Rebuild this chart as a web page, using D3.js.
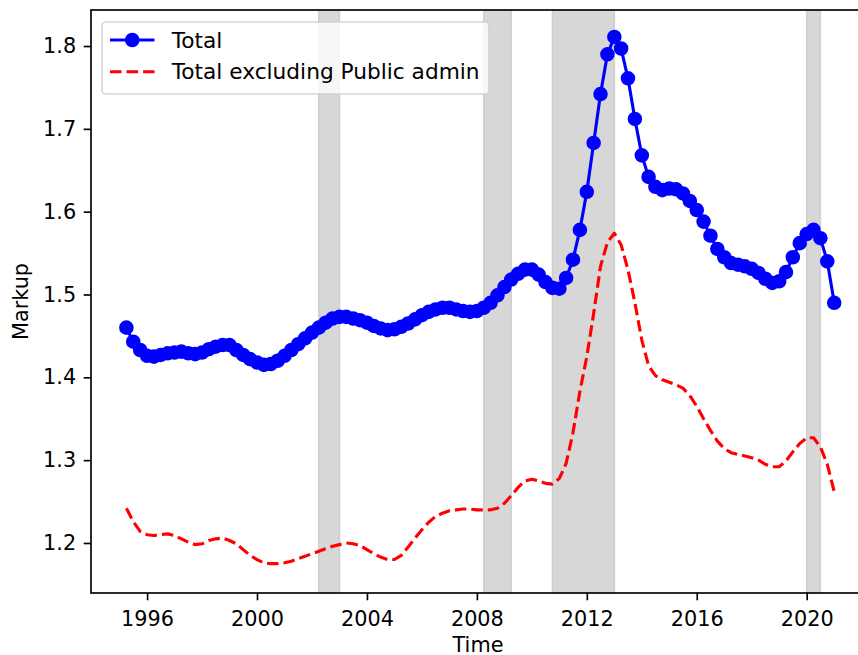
<!DOCTYPE html>
<html>
<head>
<meta charset="utf-8">
<script src="https://cdn.jsdelivr.net/npm/d3@7"></script>
<style>
  html, body { margin: 0; padding: 0; background: #fff; overflow: hidden; }
  svg { display: block; font-family: "DejaVu Sans", sans-serif; }
</style>
</head>
<body>
<svg id="chart" width="858" height="655"></svg>
<script>
// Quarterly markup series, 1995Q2 .. 2021Q1
const firstQuarter = "1995-04-01";
const lastQuarter = "2021-01-01";

const totalMarkup = [
  1.460, 1.443, 1.433, 1.426, 1.425, 1.427, 1.429, 1.430, 1.431, 1.429,
  1.428, 1.430, 1.434, 1.437, 1.439, 1.439, 1.433, 1.427, 1.422, 1.418,
  1.415, 1.416, 1.420, 1.426, 1.433, 1.440, 1.447, 1.454, 1.460, 1.466,
  1.471, 1.473, 1.473, 1.471, 1.469, 1.466, 1.462, 1.459, 1.457, 1.458,
  1.461, 1.465, 1.470, 1.475, 1.479, 1.482, 1.484, 1.484, 1.482, 1.480,
  1.479, 1.480, 1.484, 1.490, 1.499, 1.509, 1.518, 1.525, 1.530, 1.530,
  1.524, 1.515, 1.508, 1.507, 1.520, 1.542, 1.578, 1.624, 1.683, 1.742,
  1.790, 1.811, 1.797, 1.761, 1.712, 1.668, 1.642, 1.630, 1.626, 1.628,
  1.627, 1.622, 1.613, 1.602, 1.588, 1.571, 1.555, 1.545, 1.538, 1.536,
  1.534, 1.531, 1.526, 1.519, 1.514, 1.516, 1.527, 1.545, 1.562, 1.573,
  1.578, 1.568, 1.540, 1.490
];

const excludingPublicAdmin = [
  1.242, 1.226, 1.214, 1.210, 1.209, 1.210, 1.211, 1.209, 1.205, 1.201,
  1.198, 1.199, 1.203, 1.205, 1.206, 1.203, 1.199, 1.192, 1.185, 1.180,
  1.176, 1.175, 1.175, 1.176, 1.178, 1.181, 1.184, 1.187, 1.190, 1.193,
  1.196, 1.198, 1.200, 1.199, 1.197, 1.192, 1.187, 1.183, 1.180, 1.180,
  1.185, 1.195, 1.206, 1.216, 1.225, 1.232, 1.236, 1.239, 1.240, 1.241,
  1.241, 1.240, 1.240, 1.240, 1.242, 1.248, 1.257, 1.267, 1.275, 1.277,
  1.275, 1.272, 1.271, 1.278, 1.296, 1.333, 1.383, 1.425, 1.477, 1.534,
  1.563, 1.574, 1.560, 1.530, 1.490, 1.445, 1.414, 1.402, 1.397, 1.394,
  1.391, 1.387, 1.378, 1.365, 1.350, 1.336, 1.323, 1.314, 1.309, 1.307,
  1.305, 1.303, 1.300, 1.295, 1.292, 1.292, 1.299, 1.310, 1.320, 1.327,
  1.327, 1.316, 1.295, 1.262
];

// Recession periods (start, end)
const recessions = [
  ["2002-04-01", "2003-01-01"],
  ["2008-04-01", "2009-04-01"],
  ["2010-10-01", "2013-01-01"],
  ["2020-01-01", "2020-07-01"]
];

const yTicks = [1.2, 1.3, 1.4, 1.5, 1.6, 1.7, 1.8];
const yLimits = [1.1396, 1.8435];
const seriesLabels = ["Total", "Total excluding Public admin"];
const axisLabels = { x: "Time", y: "Markup" };

// ---- layout ----
const PT = 2.08;                 // pixels per point
const FONT = 10 * PT;
const LEGEND_FONT = 21.7;
const plot = { left: 91, top: 10, right: 869.6, bottom: 593 };

const svg = d3.select("#chart");
const parse = d3.utcParse("%Y-%m-%d");

const start = parse(firstQuarter);
const end = parse(lastQuarter);
const quarters = d3.utcMonth.every(3).range(start, d3.utcDay.offset(end, 1));

const pad = (end - start) * 0.05;
const x = d3.scaleUtc()
  .domain([new Date(+start - pad), new Date(+end + pad)])
  .range([plot.left, plot.right]);

const y = d3.scaleLinear()
  .domain(yLimits)
  .range([plot.bottom, plot.top]);

const totalData = quarters.map((d, i) => ({ date: d, value: totalMarkup[i] }));
const exclData = quarters.map((d, i) => ({ date: d, value: excludingPublicAdmin[i] }));

svg.append("defs").append("clipPath").attr("id", "plotClip")
  .append("rect")
  .attr("x", plot.left).attr("y", plot.top)
  .attr("width", plot.right - plot.left).attr("height", plot.bottom - plot.top);

const area = svg.append("g").attr("clip-path", "url(#plotClip)");

// recession shading
area.selectAll("rect.recession")
  .data(recessions)
  .join("rect")
  .attr("class", "recession")
  .attr("x", d => x(parse(d[0])))
  .attr("width", d => x(parse(d[1])) - x(parse(d[0])))
  .attr("y", plot.top)
  .attr("height", plot.bottom - plot.top)
  .attr("fill", "#d7d7d7")
  .attr("stroke", "#cfcfcf")
  .attr("stroke-width", 1.5);

const line = d3.line().x(d => x(d.date)).y(d => y(d.value));

// total markup: solid line with circle markers
area.append("path")
  .datum(totalData)
  .attr("d", line)
  .attr("fill", "none")
  .attr("stroke", "#0000ff")
  .attr("stroke-width", 1.5 * PT)
  .attr("stroke-linejoin", "round");

area.selectAll("circle.total")
  .data(totalData)
  .join("circle")
  .attr("class", "total")
  .attr("cx", d => x(d.date))
  .attr("cy", d => y(d.value))
  .attr("r", 3 * PT)
  .attr("fill", "#0000ff")
  .attr("stroke", "#0000ff")
  .attr("stroke-width", 1 * PT);

// total excluding public administration: dashed line
area.append("path")
  .datum(exclData)
  .attr("d", line)
  .attr("fill", "none")
  .attr("stroke", "#ff0000")
  .attr("stroke-width", 1.5 * PT)
  .attr("stroke-dasharray", `${3.7 * 1.5 * PT},${1.6 * 1.5 * PT}`)
  .attr("stroke-linejoin", "round");

// ---- axes ----
const tickLen = 3.5 * PT;

const xAxis = d3.axisBottom(x)
  .tickValues(d3.utcYear.every(4).range(parse("1996-01-01"), parse("2021-01-02")))
  .tickFormat(d3.utcFormat("%Y"))
  .tickSize(tickLen)
  .tickPadding(11);

const gx = svg.append("g")
  .attr("transform", `translate(0,${plot.bottom})`)
  .call(xAxis);

const yAxis = d3.axisLeft(y)
  .tickValues(yTicks)
  .tickFormat(d3.format(".1f"))
  .tickSize(tickLen)
  .tickPadding(7.6);

const gy = svg.append("g")
  .attr("transform", `translate(${plot.left},0)`)
  .call(yAxis);

[gx, gy].forEach(g => {
  g.select(".domain").remove();
  g.selectAll(".tick line").attr("stroke", "#000").attr("stroke-width", 0.8 * PT);
  g.selectAll(".tick text")
    .attr("fill", "#000")
    .style("font-size", FONT + "px")
    .style("font-family", "'DejaVu Sans', sans-serif");
});

// spines
svg.append("rect")
  .attr("x", plot.left).attr("y", plot.top)
  .attr("width", plot.right - plot.left).attr("height", plot.bottom - plot.top)
  .attr("fill", "none")
  .attr("stroke", "#000")
  .attr("stroke-width", 0.8 * PT);

// axis labels
svg.append("text")
  .attr("x", 478)
  .attr("y", 651.5)
  .attr("text-anchor", "middle")
  .style("font-size", FONT + "px")
  .text(axisLabels.x);

svg.append("text")
  .attr("transform", `translate(27.5,${(plot.top + plot.bottom) / 2}) rotate(-90)`)
  .attr("text-anchor", "middle")
  .style("font-size", FONT + "px")
  .text(axisLabels.y);

// ---- legend ----
const legend = svg.append("g");
const lg = { x: 102, y: 22, h: 72 };
const legendBox = legend.append("rect")
  .attr("x", lg.x).attr("y", lg.y)
  .attr("height", lg.h)
  .attr("rx", 4).attr("ry", 4)
  .attr("fill", "#ffffff").attr("fill-opacity", 0.8)
  .attr("stroke", "#cccccc").attr("stroke-opacity", 0.8)
  .attr("stroke-width", 0.8 * PT);

const rowY = [40, 71.7];
const handleX0 = 110, handleX1 = 154.5, textX = 171.7;

legend.append("line")
  .attr("x1", handleX0).attr("x2", handleX1)
  .attr("y1", rowY[0]).attr("y2", rowY[0])
  .attr("stroke", "#0000ff").attr("stroke-width", 1.5 * PT);
legend.append("circle")
  .attr("cx", (handleX0 + handleX1) / 2).attr("cy", rowY[0])
  .attr("r", 3 * PT)
  .attr("fill", "#0000ff").attr("stroke", "#0000ff").attr("stroke-width", 1 * PT);

legend.append("line")
  .attr("x1", handleX0).attr("x2", handleX1)
  .attr("y1", rowY[1]).attr("y2", rowY[1])
  .attr("stroke", "#ff0000").attr("stroke-width", 1.5 * PT)
  .attr("stroke-dasharray", `${3.7 * 1.5 * PT},${1.6 * 1.5 * PT}`);

let maxLen = 0;
seriesLabels.forEach((s, i) => {
  const t = legend.append("text")
    .attr("x", textX)
    .attr("y", rowY[i] + 7.6)
    .style("font-size", LEGEND_FONT + "px")
    .attr("fill", "#000")
    .text(s);
  maxLen = Math.max(maxLen, t.node().getComputedTextLength());
});
legendBox.attr("width", Math.max(textX + maxLen + 8.5, 489) - lg.x);
</script>
</body>
</html>
